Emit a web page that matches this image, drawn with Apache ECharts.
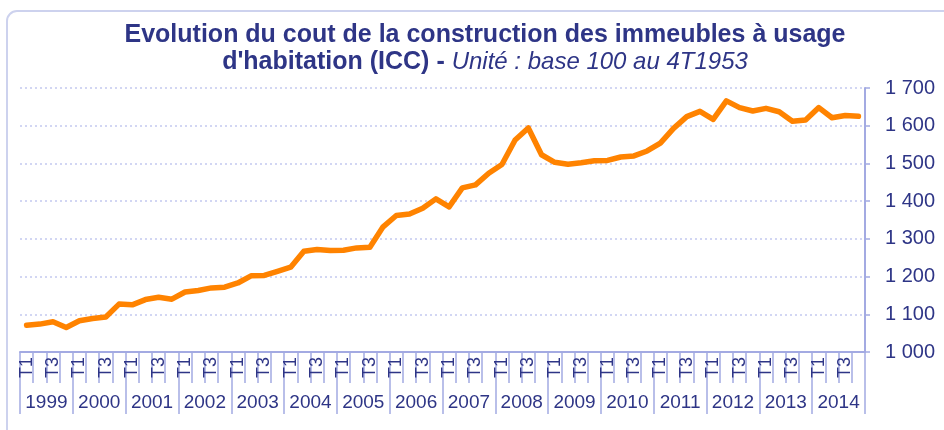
<!DOCTYPE html>
<html>
<head>
<meta charset="utf-8">
<script src="https://cdn.jsdelivr.net/npm/echarts@6/dist/echarts.min.js"></script>
<style>
html,body{margin:0;padding:0;background:#fff;}
#chart{width:944px;height:430px;}
</style>
</head>
<body>
<div id="chart"></div>
<script>
// ---- data ----
var years = ['1999','2000','2001','2002','2003','2004','2005','2006','2007','2008','2009','2010','2011','2012','2013','2014'];
var quarterNames = ['T1','T2','T3','T4'];
var icc1999 = [1071,1074,1080,1065];
var icc2000 = [1083,1089,1093,1127];
var icc2001 = [1125,1139,1145,1140];
var icc2002 = [1159,1163,1170,1172];
var icc2003 = [1183,1202,1203,1214];
var icc2004 = [1225,1267,1272,1269];
var icc2005 = [1270,1276,1278,1332];
var icc2006 = [1362,1366,1381,1406];
var icc2007 = [1385,1435,1443,1474];
var icc2008 = [1497,1562,1594,1523];
var icc2009 = [1503,1498,1502,1507];
var icc2010 = [1508,1517,1520,1533];
var icc2011 = [1554,1593,1624,1638];
var icc2012 = [1617,1666,1648,1639];
var icc2013 = [1646,1637,1612,1615];
var icc2014 = [1648,1621,1627,1625];
var yTicks = {min:1000, max:1700, step:100};

// ---- build ----
var iccByYear = [icc1999,icc2000,icc2001,icc2002,icc2003,icc2004,icc2005,icc2006,icc2007,icc2008,icc2009,icc2010,icc2011,icc2012,icc2013,icc2014];
var quarters = [], values = [];
years.forEach(function(y, i){
  quarterNames.forEach(function(q, j){
    quarters.push(q);
    values.push(iccByYear[i][j]);
  });
});

var navy = '#2e3586';
var axisCol = '#a3aae2';
var fontFam = '"Liberation Sans", Arial, sans-serif';

function fmt(v){
  var th = Math.floor(v/1000), r = v % 1000;
  var s = String(r); while (s.length < 3) s = '0' + s;
  return th > 0 ? th + ' ' + s : String(r);
}

var chart = echarts.init(document.getElementById('chart'));
chart.setOption({
  animation: false,
  backgroundColor: '#fff',
  graphic: [{
    type: 'rect', z: -1,
    shape: {x: 7, y: 11, width: 1000, height: 500, r: 10},
    style: {fill: 'none', stroke: '#cdd2ee', lineWidth: 2}
  }],
  title: {
    left: 485, top: 22, textAlign: 'center', padding: 0,
    text: 'Evolution du cout de la construction des immeubles à usage\n{b|d\'habitation (ICC) - }{i|Unité : base 100 au 4T1953}',
    textStyle: {
      color: navy, fontFamily: fontFam, fontSize: 25, fontWeight: 'bold', lineHeight: 27,
      rich: {
        b: {color: navy, fontFamily: fontFam, fontSize: 25, fontWeight: 'bold', lineHeight: 27},
        i: {color: navy, fontFamily: fontFam, fontSize: 24, fontStyle: 'italic', fontWeight: 'normal', lineHeight: 27}
      }
    }
  },
  grid: {left: 20, right: 79, top: 88, bottom: 78, containLabel: false},
  xAxis: [{
    type: 'category', data: quarters, boundaryGap: true, position: 'bottom',
    axisLine: {show: true, lineStyle: {color: axisCol, width: 2}},
    axisTick: {show: true, interval: 0, length: 31, lineStyle: {color: axisCol, width: 1.5}},
    axisLabel: {interval: 1, rotate: 90, margin: 5, color: navy, fontFamily: fontFam, fontSize: 18},
    splitLine: {show: false}
  }, {
    type: 'category', data: years, boundaryGap: true, position: 'bottom',
    axisLine: {show: false},
    axisTick: {show: true, interval: 0, length: 62, lineStyle: {color: axisCol, width: 1.5}},
    axisLabel: {interval: 0, margin: 41, color: navy, fontFamily: fontFam, fontSize: 19},
    splitLine: {show: false}
  }],
  yAxis: {
    type: 'value', position: 'right',
    min: yTicks.min, max: yTicks.max, interval: yTicks.step,
    axisLine: {show: true, lineStyle: {color: axisCol, width: 2}},
    axisTick: {show: true, length: 5, lineStyle: {color: axisCol, width: 1.5}},
    axisLabel: {margin: 20, color: navy, fontFamily: fontFam, fontSize: 20, formatter: fmt},
    splitLine: {show: true, lineStyle: {color: '#c3c9ef', width: 1.5, type: [2, 3]}}
  },
  series: [{
    type: 'line', data: values, xAxisIndex: 0,
    showSymbol: false, symbol: 'none',
    lineStyle: {color: '#ff8300', width: 5.5, join: 'round', cap: 'round'},
    z: 5
  }]
});
</script>
</body>
</html>
